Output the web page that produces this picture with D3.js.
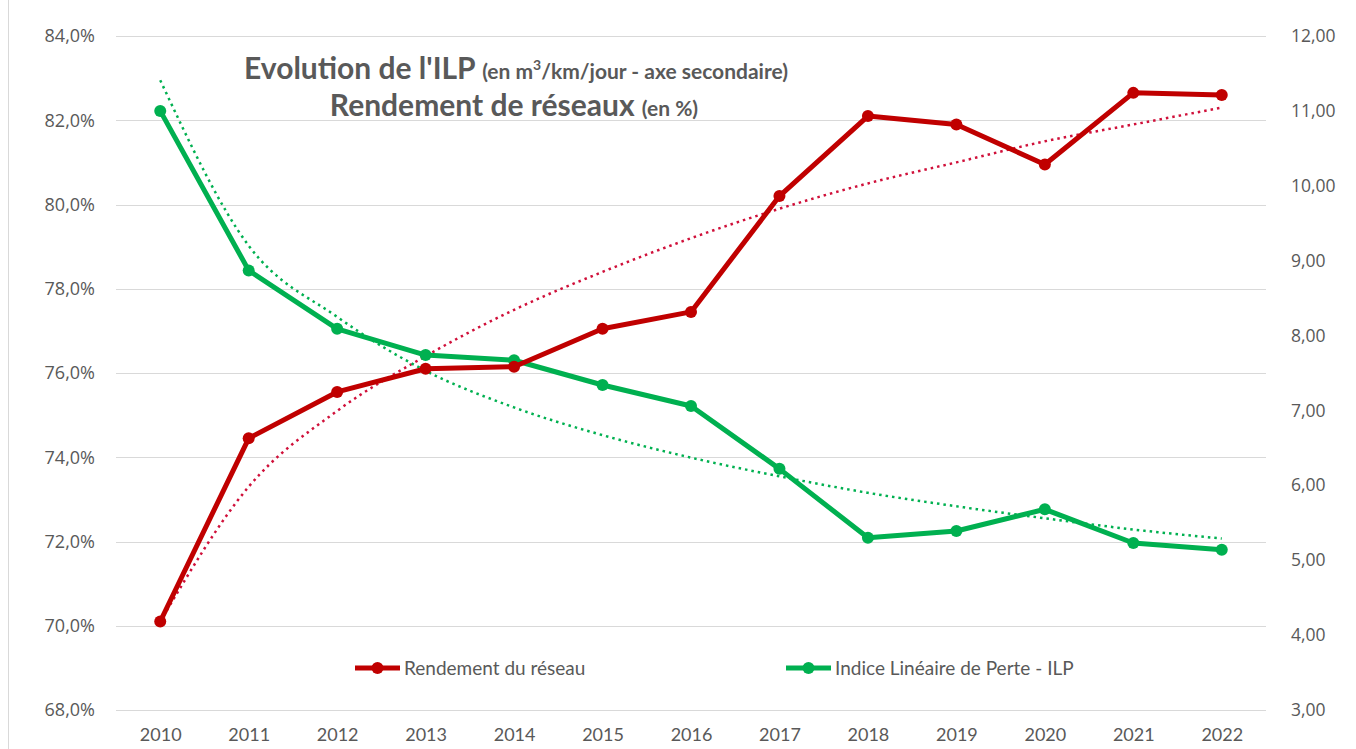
<!DOCTYPE html>
<html>
<head>
<meta charset="utf-8">
<script src="https://cdn.jsdelivr.net/npm/d3@7"></script>
<style>
  body { margin: 0; background: #fff; }
  text { font-family: Lato, "Open Sans", sans-serif; }
</style>
</head>
<body>
<script>
// years on the x axis
const years = ["2010","2011","2012","2013","2014","2015","2016","2017","2018","2019","2020","2021","2022"];
// rendement du réseau (%), left axis
const rendement = [70.1, 74.45, 75.55, 76.1, 76.15, 77.05, 77.45, 80.2, 82.1, 81.9, 80.95, 82.65, 82.6];
// ILP (m3/km/jour), right axis
const ilp = [11.0, 8.87, 8.09, 7.74, 7.67, 7.34, 7.06, 6.22, 5.30, 5.39, 5.68, 5.23, 5.14];
// dotted trend lines
const rendementTrend = [70.1, 73.3, 75.1, 76.4, 77.5, 78.4, 79.2, 79.9, 80.5, 81.0, 81.5, 81.9, 82.3];
const ilpTrend = [11.41, 9.2, 8.25, 7.53, 7.04, 6.67, 6.37, 6.12, 5.90, 5.72, 5.56, 5.41, 5.29];
const leftTicks = [68, 70, 72, 74, 76, 78, 80, 82, 84];
const rightTicks = [3, 4, 5, 6, 7, 8, 9, 10, 11, 12];

const width = 1356, height = 749;
const margin = { top: 36, right: 90, bottom: 39, left: 116 };

const red = "#C00000", green = "#00B050";

const svg = d3.select("body").append("svg")
    .attr("width", width)
    .attr("height", height);

// faint chart border on the left
svg.append("line")
    .attr("x1", 8.5).attr("x2", 8.5).attr("y1", 0).attr("y2", height)
    .attr("stroke", "#d9d9d9");

const x = d3.scalePoint()
    .domain(years)
    .range([margin.left, width - margin.right])
    .padding(0.5);

const yL = d3.scaleLinear().domain([68, 84]).range([height - margin.bottom, margin.top]);
const yR = d3.scaleLinear().domain([3, 12]).range([height - margin.bottom, margin.top]);

// gridlines
svg.append("g")
    .selectAll("line")
    .data(leftTicks)
    .join("line")
    .attr("x1", margin.left).attr("x2", width - margin.right)
    .attr("y1", d => Math.round(yL(d)) + 0.5).attr("y2", d => Math.round(yL(d)) + 0.5)
    .attr("stroke", "#d9d9d9")
    .attr("stroke-width", 1.2);

const fmtPct = d => d.toFixed(1).replace(".", ",") + "%";
const fmtNum = d => d.toFixed(2).replace(".", ",");

// left axis
const axL = svg.append("g")
    .attr("transform", `translate(${margin.left - 18},0)`)
    .call(d3.axisLeft(yL).tickValues(leftTicks).tickFormat(fmtPct).tickSize(0));
axL.select(".domain").remove();
axL.selectAll("text")
    .attr("fill", "#595959")
    .style("font-family", "'Open Sans', sans-serif")
    .style("font-size", "18px");

// right axis
const axR = svg.append("g")
    .attr("transform", `translate(${width - margin.right + 22},0)`)
    .call(d3.axisRight(yR).tickValues(rightTicks).tickFormat(fmtNum).tickSize(0));
axR.select(".domain").remove();
axR.selectAll("text")
    .attr("fill", "#595959")
    .style("font-family", "'Open Sans', sans-serif")
    .style("font-size", "17.5px");

// bottom axis
const axB = svg.append("g")
    .attr("transform", `translate(0,${height - margin.bottom})`)
    .call(d3.axisBottom(x).tickSize(0).tickPadding(18));
axB.select(".domain").remove();
axB.selectAll("text")
    .attr("fill", "#595959")
    .style("font-family", "Lato, sans-serif")
    .style("font-size", "18px");

// trend lines
const trendLine = (scale) => d3.line()
    .x((d, i) => x(years[i]))
    .y(d => scale(d))
    .curve(d3.curveMonotoneX);

svg.append("path")
    .datum(rendementTrend)
    .attr("d", trendLine(yL))
    .attr("fill", "none")
    .attr("stroke", "#D0103A")
    .attr("stroke-width", 2.5)
    .attr("stroke-dasharray", "2.5,4");

svg.append("path")
    .datum(ilpTrend)
    .attr("d", trendLine(yR))
    .attr("fill", "none")
    .attr("stroke", green)
    .attr("stroke-width", 2.5)
    .attr("stroke-dasharray", "2.5,4");

// series
function drawSeries(values, scale, color) {
    const line = d3.line()
        .x((d, i) => x(years[i]))
        .y(d => scale(d));
    svg.append("path")
        .datum(values)
        .attr("d", line)
        .attr("fill", "none")
        .attr("stroke", color)
        .attr("stroke-width", 5)
        .attr("stroke-linejoin", "round");
    svg.append("g")
        .selectAll("circle")
        .data(values)
        .join("circle")
        .attr("cx", (d, i) => x(years[i]))
        .attr("cy", d => scale(d))
        .attr("r", 6)
        .attr("fill", color);
}

drawSeries(ilp, yR, green);
drawSeries(rendement, yL, red);

// title
const title = svg.append("g").attr("fill", "#595959").style("font-weight", "bold");
const t1 = title.append("text").attr("x", 516).attr("y", 79).attr("text-anchor", "middle");
t1.append("tspan").style("font-size", "30px").text("Evolution de l'ILP ");
t1.append("tspan").style("font-size", "21px").text("(en m");
t1.append("tspan").style("font-size", "14px").attr("dy", -9).text("3");
t1.append("tspan").style("font-size", "21px").attr("dy", 9).text("/km/jour - axe secondaire)");
const t2 = title.append("text").attr("x", 514).attr("y", 116).attr("text-anchor", "middle");
t2.append("tspan").style("font-size", "30px").text("Rendement de réseaux ");
t2.append("tspan").style("font-size", "21px").text("(en %)");

// legend
const legendItems = [
    { name: "Rendement du réseau", color: red, x: 355 },
    { name: "Indice Linéaire de Perte - ILP", color: green, x: 786 }
];
const leg = svg.append("g").selectAll("g")
    .data(legendItems)
    .join("g")
    .attr("transform", d => `translate(${d.x},668)`);
leg.append("line")
    .attr("x1", 0).attr("x2", 45)
    .attr("stroke", d => d.color)
    .attr("stroke-width", 5);
leg.append("circle")
    .attr("cx", 22.5).attr("r", 6)
    .attr("fill", d => d.color);
leg.append("text")
    .attr("x", 49).attr("dy", "0.35em")
    .attr("fill", "#595959")
    .style("font-size", "19px")
    .text(d => d.name);
</script>
</body>
</html>
